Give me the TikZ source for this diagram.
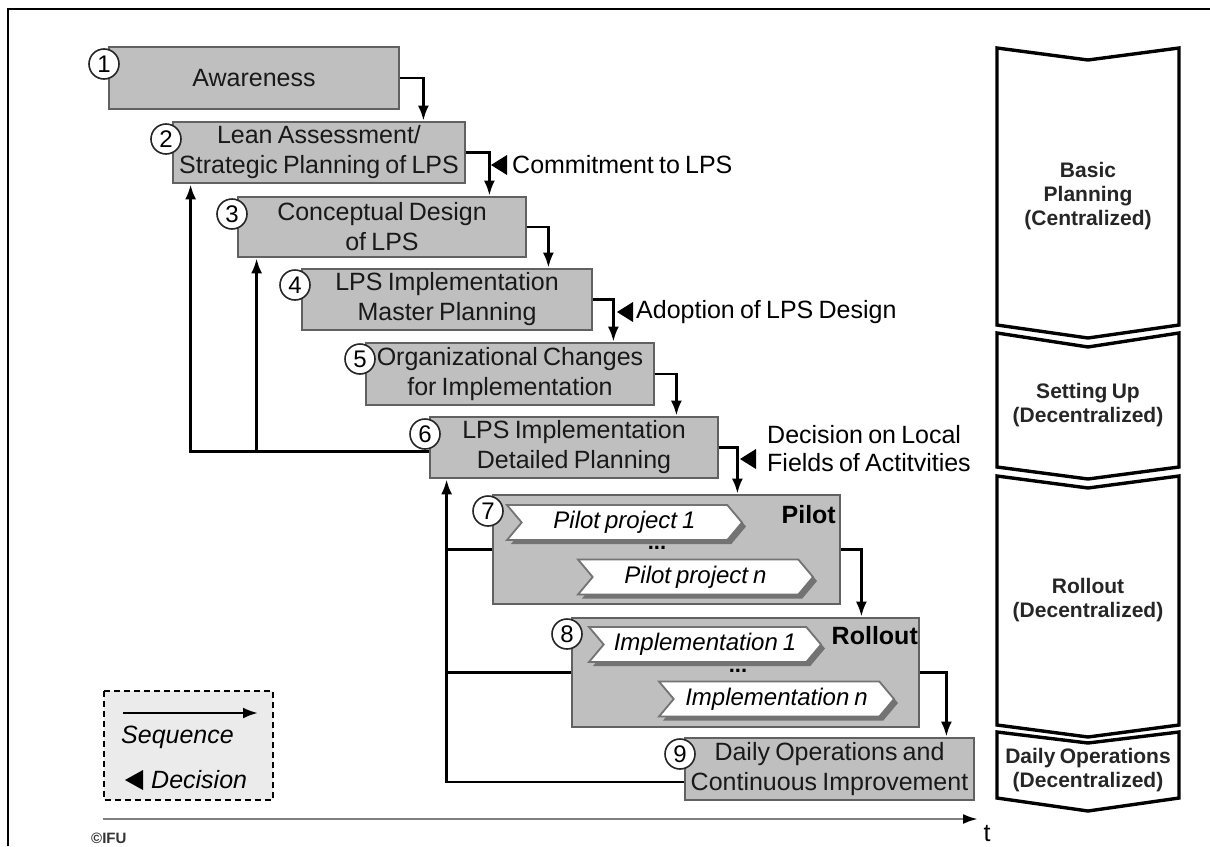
\documentclass[tikz,border=0pt]{standalone}
\usepackage{fontspec}
\setmainfont{Liberation Sans}[WordSpace=0.75]
\usetikzlibrary{arrows.meta,shapes.symbols,shadows}

\begin{document}
\begin{tikzpicture}[x=1pt,y=-1pt,
  stage/.style={draw=black!62, line width=2.8pt, fill=black!25, inner sep=0pt,
    align=center, font=\fontsize{25}{30}\selectfont, text=black!90},
  num/.style={circle, draw=black!85, line width=1.6pt, fill=white,
    minimum size=30pt, inner sep=0pt, font=\fontsize{24}{24}\selectfont},
  seq/.style={line width=2.6pt, -{Latex[length=15pt,width=11pt]}},
  fb/.style={line width=2.6pt},
  proj/.style={signal, signal to=east, signal from=west, signal pointer angle=100,
    draw=black!55, line width=1.8pt, fill=white, inner sep=0pt, minimum height=35pt,
    font=\fontsize{24}{24}\selectfont\itshape,
    drop shadow={shadow xshift=4pt, shadow yshift=-4pt, fill=black!55, opacity=1}},
  phase/.style={draw=black, line width=3.4pt, fill=white, line join=miter},
  phaselabel/.style={font=\fontsize{21}{24}\selectfont\bfseries, align=center, text=black!85},
  declabel/.style={font=\fontsize{25}{28}\selectfont, anchor=west, align=left, inner sep=0pt},
  tag/.style={font=\fontsize{25}{25}\selectfont\bfseries, anchor=east, inner sep=0pt},
  dots/.style={font=\fontsize{22}{22}\selectfont\bfseries, inner sep=0pt}
]
\useasboundingbox (0,0) rectangle (1210,846);

% page frame
\draw[line width=2.6pt] (8,846) -- (8,9) -- (1210,9);

% phase chevrons on the right
\draw[phase] (997,48) -- (1088,60) -- (1179,48) -- (1179,325) -- (1088,338) -- (997,325) -- cycle;
\draw[phase] (997,333) -- (1088,347) -- (1179,333) -- (1179,467) -- (1088,479) -- (997,467) -- cycle;
\draw[phase] (997,476) -- (1088,488) -- (1179,476) -- (1179,725) -- (1088,737) -- (997,725) -- cycle;
\draw[phase] (997,732) -- (1088,743) -- (1179,732) -- (1179,798) -- (1088,811) -- (997,798) -- cycle;
\node[phaselabel] (p1) at (1088,196) {Basic\\Planning\\(Centralized)};
\node[phaselabel] (p2) at (1088,405) {Setting Up\\(Decentralized)};
\node[phaselabel] (p3) at (1088,600) {Rollout\\(Decentralized)};
\node[phaselabel] (p4) at (1088,770) {Daily Operations\\(Decentralized)};

% stages
\node[stage, minimum width=290pt, minimum height=62pt] (B1) at (254,78) {Awareness};
\node[stage, minimum width=292pt, minimum height=61pt] (B2) at (319,152.5) {Lean Assessment/\\Strategic Planning of LPS};
\node[stage, minimum width=288pt, minimum height=60pt] (B3) at (382,227) {Conceptual Design\\of LPS};
\node[stage, minimum width=290pt, minimum height=61pt] (B4) at (447,299.5) {LPS Implementation\\Master Planning};
\node[stage, minimum width=288pt, minimum height=62pt] (B5) at (510,374) {Organizational Changes\\for Implementation};
\node[stage, minimum width=288pt, minimum height=61pt] (B6) at (574,447.5) {LPS Implementation\\Detailed Planning};
\node[stage, minimum width=347pt, minimum height=109pt] (B7) at (666.5,549.5) {};
\node[stage, minimum width=347pt, minimum height=109pt] (B8) at (745.5,672.5) {};
\node[stage, minimum width=289pt, minimum height=62pt] (B9) at (829.5,769) {Daily Operations and\\Continuous Improvement};

% pilot and rollout contents
\node[tag] (pilot) at (836,515) {Pilot};
\node[proj, minimum width=235pt] (pp1) at (624.5,522.5) {Pilot project 1};
\node[dots] (pd) at (657,548) {...};
\node[proj, minimum width=235pt] (ppn) at (695.5,577) {Pilot project n};

\node[tag] (roll) at (918,636) {Rollout};
\node[proj, minimum width=232pt] (im1) at (705,644.5) {Implementation 1};
\node[dots] (imd) at (738,671) {...};
\node[proj, minimum width=235pt] (imn) at (776.5,699) {Implementation n};

% sequence arrows
\draw[seq] (B1.east) -| ([xshift=23pt]B1.east |- B2.north);
\draw[seq] (B2.east) -| ([xshift=23pt]B2.east |- B3.north);
\draw[seq] (B3.east) -| ([xshift=21pt]B3.east |- B4.north);
\draw[seq] (B4.east) -| ([xshift=20pt]B4.east |- B5.north);
\draw[seq] (B5.east) -| ([xshift=21pt]B5.east |- B6.north);
\draw[seq] (B6.east) -| ([xshift=18pt]B6.east |- B7.north);
\draw[seq] (B7.east) -| ([xshift=20pt]B7.east |- B8.north);
\draw[seq] (B8.east) -| ([xshift=26pt]B8.east |- B9.north);

% feedback loops
\coordinate (fbu) at ([yshift=-4pt]B6.west);
\coordinate (fbl) at ([yshift=-13pt]B9.west);
\draw[seq] (fbu) -| ([xshift=19pt]B2.south west);
\draw[seq] ([xshift=20pt]B3.south west |- fbu) -- ([xshift=20pt]B3.south west);
\draw[seq] (fbl) -| ([xshift=18pt]B6.south west);
\draw[fb] (B7.west) -- ([xshift=18pt]B6.south west |- B7.west);
\draw[fb] (B8.west) -- ([xshift=18pt]B6.south west |- B8.west);

% stage numbers
\node[num] (n1) at (104,64) {1};
\node[num] (n2) at (166,139) {2};
\node[num] (n3) at (232,214) {3};
\node[num] (n4) at (295,285) {4};
\node[num] (n5) at (360,359) {5};
\node[num] (n6) at (425,434) {6};
\node[num] (n7) at (488,511) {7};
\node[num] (n8) at (567,634) {8};
\node[num] (n9) at (680,754) {9};

% decisions
\coordinate (d1) at (491,165);
\fill (d1) -- ++(16,-10) -- ++(0,20) -- cycle;
\node[declabel] (l1) at (512,165) {Commitment to LPS};
\coordinate (d2) at (617,312);
\fill (d2) -- ++(16,-10) -- ++(0,20) -- cycle;
\node[declabel] (l2) at (636,312) {Adoption of LPS Design};
\coordinate (d3) at (740,459);
\fill (d3) -- ++(16,-10) -- ++(0,20) -- cycle;
\node[declabel] (l3) at (767,449) {Decision on Local\\Fields of Actitvities};

% legend
\draw[dash pattern=on 6pt off 4pt, line width=1.4pt, fill=black!8] (104,691) rectangle (273,800);
\coordinate (ls) at (123,713);
\coordinate (le) at (258,713);
\draw[seq] (ls) -- (le);
\node[font=\fontsize{25}{25}\selectfont\itshape, anchor=west, inner sep=0pt] (lseq) at (121,737) {Sequence};
\coordinate (ld) at (125,780);
\fill (ld) -- ++(18,-10) -- ++(0,20) -- cycle;
\node[font=\fontsize{25}{25}\selectfont\itshape, anchor=west, inner sep=0pt] (ldec) at (151,780) {Decision};

% time axis
\coordinate (t0) at (103,819);
\coordinate (t1) at (978,819);
\draw[line width=2.6pt, black!50, -{Latex[length=15pt,width=10pt,color=black]}] (t0) -- (t1);
\node[font=\fontsize{25}{25}\selectfont, inner sep=0pt] (tl) at (987,834) {t};
\node[font=\fontsize{15}{15}\selectfont\bfseries, anchor=west, inner sep=0pt, text=black!80] (copy) at (91,838) {©IFU};
\end{tikzpicture}
\end{document}
